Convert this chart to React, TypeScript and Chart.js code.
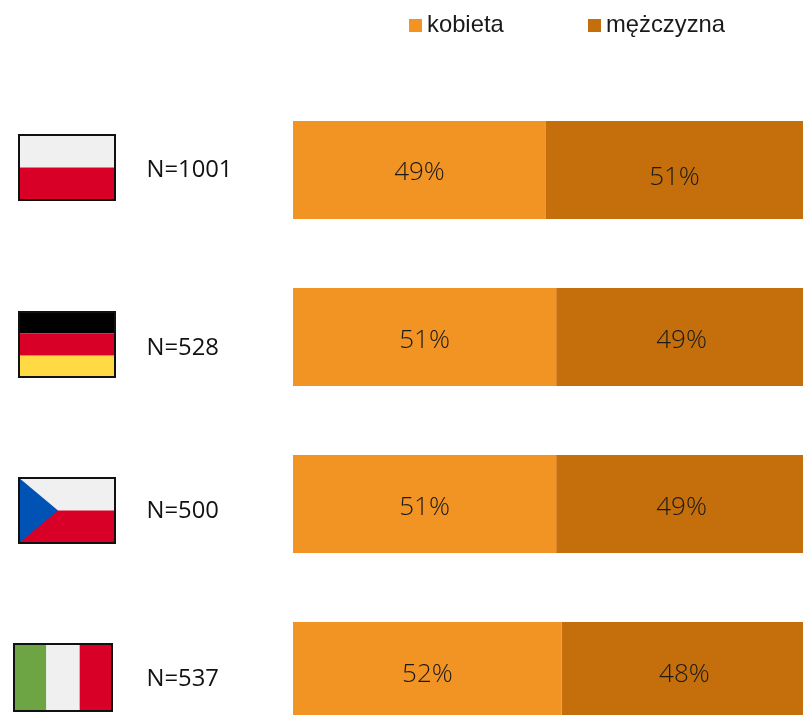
import React, { useEffect, useRef } from "react";
import { Chart, registerables } from "chart.js";

Chart.register(...registerables);

const countries = ["Polska", "Niemcy", "Czechy", "Włochy"];
const sampleLabels = ["N=1001", "N=528", "N=500", "N=537"];
const kobieta = [49.6, 51.6, 51.6, 52.7];
const mezczyzna = [50.4, 48.4, 48.4, 47.3];
const kobietaLabels = ["49%", "51%", "51%", "52%"];
const mezczyznaLabels = ["51%", "49%", "49%", "48%"];

const ORANGE = "#F29423";
const BROWN = "#C56F0C";
const WHITE = "#F0F0F0";
const RED = "#D80027";
const BLACK = "#000000";
const YELLOW = "#FFDA44";
const BLUE = "#0052B4";
const GREEN = "#6DA544";

type Ctx = CanvasRenderingContext2D;

function drawFlag(ctx: Ctx, i: number) {
  const boxes = [
    [18, 134, 98, 67],
    [18, 311, 98, 67],
    [18, 477, 98, 67],
    [13, 643, 100, 69],
  ];
  const [x, y, w, h] = boxes[i];
  ctx.save();
  if (i === 0 || i === 2) {
    ctx.fillStyle = WHITE;
    ctx.fillRect(x, y, w, h / 2);
    ctx.fillStyle = RED;
    ctx.fillRect(x, y + h / 2, w, h / 2);
    if (i === 2) {
      ctx.fillStyle = BLUE;
      ctx.beginPath();
      ctx.moveTo(x, y);
      ctx.lineTo(x + 40, y + h / 2);
      ctx.lineTo(x, y + h);
      ctx.closePath();
      ctx.fill();
    }
  } else if (i === 1) {
    ctx.fillStyle = BLACK;
    ctx.fillRect(x, y, w, h / 3);
    ctx.fillStyle = RED;
    ctx.fillRect(x, y + h / 3, w, h / 3);
    ctx.fillStyle = YELLOW;
    ctx.fillRect(x, y + (2 * h) / 3, w, h / 3);
  } else {
    ctx.fillStyle = GREEN;
    ctx.fillRect(x, y, w / 3, h);
    ctx.fillStyle = WHITE;
    ctx.fillRect(x + w / 3, y, w / 3, h);
    ctx.fillStyle = RED;
    ctx.fillRect(x + (2 * w) / 3, y, w / 3, h);
  }
  ctx.strokeStyle = "#111111";
  ctx.lineWidth = 2;
  ctx.strokeRect(x + 1, y + 1, w - 2, h - 2);
  ctx.restore();
}

const decorations = {
  id: "decorations",
  afterDatasetsDraw(chart: any) {
    const ctx: Ctx = chart.ctx;
    const dataLabels = [kobietaLabels, mezczyznaLabels];
    const dyByDataset = [[3, 4, 4, 4], [8, 4, 4, 4]];
    const dxByDataset = [[0, 0, 0, 0], [0, 2, 2, 2]];
    ctx.save();
    ctx.textAlign = "center";
    ctx.textBaseline = "middle";
    ctx.font = '300 26px "Open Sans"';
    ctx.fillStyle = "#1a1a1a";
    chart.data.datasets.forEach((_: any, d: number) => {
      chart.getDatasetMeta(d).data.forEach((bar: any, i: number) => {
        const p = bar.getProps(["x", "y", "base"], true);
        ctx.fillText(dataLabels[d][i], (p.x + p.base) / 2 + dxByDataset[d][i], p.y + dyByDataset[d][i]);
      });
    });

    // legend row
    const swatchX = [409, 588];
    ctx.textAlign = "left";
    ctx.font = '23.8px "Liberation Sans"';
    chart.data.datasets.forEach((ds: any, d: number) => {
      ctx.fillStyle = ds.backgroundColor;
      ctx.fillRect(swatchX[d], 19, 13, 13);
      ctx.fillStyle = "#1a1a1a";
      ctx.fillText(ds.label, swatchX[d] + 18, 25);
    });

    // left column
    const labelY = [170, 348, 511, 679];
    ctx.font = '23.8px "Open Sans"';
    ctx.fillStyle = "#111111";
    sampleLabels.forEach((t, i) => {
      drawFlag(ctx, i);
      ctx.fillText(t, 146.5, labelY[i]);
    });
    ctx.restore();
  },
};

export default function App() {
  const ref = useRef<HTMLCanvasElement>(null);
  useEffect(() => {
    const chart = new Chart(ref.current as HTMLCanvasElement, {
      type: "bar",
      data: {
        labels: countries,
        datasets: [
          { label: "kobieta", data: kobieta, backgroundColor: ORANGE, borderWidth: 0 },
          { label: "mężczyzna", data: mezczyzna, backgroundColor: BROWN, borderWidth: 0 },
        ],
      },
      options: {
        indexAxis: "y",
        responsive: false,
        animation: false,
        layout: { padding: { left: 293, right: 0, top: 86.5, bottom: 0.5 } },
        datasets: { bar: { categoryPercentage: 1, barPercentage: 98 / 167 } },
        scales: {
          x: { stacked: true, min: 0, max: 100, display: false },
          y: { stacked: true, display: false },
        },
        plugins: { legend: { display: false }, tooltip: { enabled: false } },
      },
      plugins: [decorations],
    } as any);
    return () => chart.destroy();
  }, []);
  return (
    <div style={{ position: "absolute", left: 0, top: 0, width: 803, height: 715, overflow: "hidden", background: "#fff" }}>
      <canvas ref={ref} width={803} height={755} style={{ display: "block" }} />
    </div>
  );
}
